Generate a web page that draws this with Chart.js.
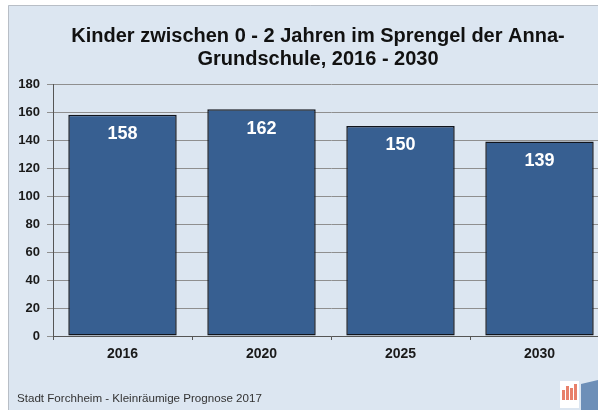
<!DOCTYPE html>
<html>
<head>
<meta charset="utf-8">
<script src="https://cdn.jsdelivr.net/npm/chart.js@4.4.1/dist/chart.umd.min.js"></script>
<style>
html,body{margin:0;padding:0;background:#fff;overflow:hidden;}
#wrap{position:absolute;left:0;top:0;width:612px;height:410px;}
</style>
</head>
<body>
<div id="wrap"><canvas id="c" width="612" height="410"></canvas></div>
<script>
const categories = ['2016', '2020', '2025', '2030'];
const values = [158, 162, 150, 139];
const yMin = 0, yMax = 180, yStep = 20;
const titleLines = ['Kinder zwischen 0 - 2 Jahren im Sprengel der Anna-', 'Grundschule, 2016 - 2030'];
const footerText = 'Stadt Forchheim - Kleinräumige Prognose 2017';

const FONT = '"Liberation Sans", Arial, sans-serif';

const decor = {
  id: 'decor',
  beforeDraw(chart) {
    const ctx = chart.ctx;
    ctx.save();
    ctx.fillStyle = '#ffffff';
    ctx.fillRect(0, 0, chart.width, chart.height);
    ctx.fillStyle = '#dce6f1';
    ctx.fillRect(8, 5, chart.width - 8, chart.height - 5);
    ctx.strokeStyle = '#b8bec6';
    ctx.lineWidth = 1;
    ctx.beginPath();
    ctx.moveTo(8.5, chart.height);
    ctx.lineTo(8.5, 5.5);
    ctx.lineTo(chart.width, 5.5);
    ctx.stroke();
    // title
    ctx.fillStyle = '#111111';
    ctx.font = 'bold 20px ' + FONT;
    ctx.textAlign = 'center';
    ctx.textBaseline = 'alphabetic';
    ctx.fillText(titleLines[0], 318, 42);
    ctx.fillText(titleLines[1], 318, 65);
    // footer
    ctx.font = '11.6px ' + FONT;
    ctx.textAlign = 'left';
    ctx.fillStyle = '#333333';
    ctx.fillText(footerText, 17, 402);
    // small logo approximation
    ctx.fillStyle = '#ffffff';
    ctx.fillRect(560, 381, 19, 27);
    ctx.fillStyle = '#e8806a';
    ctx.fillRect(562, 390, 3, 10);
    ctx.fillRect(566, 386, 3, 14);
    ctx.fillRect(570, 388, 3, 12);
    ctx.fillRect(574, 384, 3, 16);
    ctx.fillStyle = '#6d8fb8';
    ctx.beginPath();
    ctx.moveTo(581, 384); ctx.lineTo(598, 380); ctx.lineTo(598, 410); ctx.lineTo(581, 410);
    ctx.closePath();
    ctx.fill();
    ctx.restore();
  }
};

const valueLabels = {
  id: 'valueLabels',
  afterDatasetsDraw(chart) {
    const ctx = chart.ctx;
    const meta = chart.getDatasetMeta(0);
    ctx.save();
    ctx.fillStyle = '#ffffff';
    ctx.font = 'bold 18px ' + FONT;
    ctx.textAlign = 'center';
    ctx.textBaseline = 'middle';
    meta.data.forEach((bar, i) => {
      ctx.fillText(String(values[i]), bar.x, bar.y + 19.5);
    });
    ctx.restore();
  }
};

new Chart(document.getElementById('c'), {
  type: 'bar',
  data: {
    labels: categories,
    datasets: [{
      data: values,
      backgroundColor: '#375f91',
      borderColor: '#10141c',
      borderWidth: 1.5,
      borderSkipped: false,
      barPercentage: 0.78,
      categoryPercentage: 1.0
    }]
  },
  options: {
    responsive: false,
    animation: false,
    devicePixelRatio: 1,
    layout: { padding: { top: 84, right: 3, left: 0, bottom: 0 } },
    plugins: {
      legend: { display: false },
      title: { display: false },
      tooltip: { enabled: false }
    },
    scales: {
      y: {
        min: yMin, max: yMax,
        ticks: { stepSize: yStep, color: '#1a1a1a', font: { family: FONT, size: 13, weight: 'bold' }, padding: 7 },
        grid: { color: '#8f8f8f', lineWidth: 1, tickLength: 6, drawTicks: true },
        border: { color: '#555555', width: 1 },
        afterFit(scale) { scale.width = 53; }
      },
      x: {
        offset: true,
        ticks: { color: '#1a1a1a', font: { family: FONT, size: 14, weight: 'bold' }, padding: 6 },
        grid: { display: true, drawOnChartArea: false, tickLength: 4, color: '#555555', offset: true },
        border: { color: '#555555', width: 1 },
        afterFit(scale) { scale.height = 74; }
      }
    }
  },
  plugins: [decor, valueLabels]
});
</script>
</body>
</html>
